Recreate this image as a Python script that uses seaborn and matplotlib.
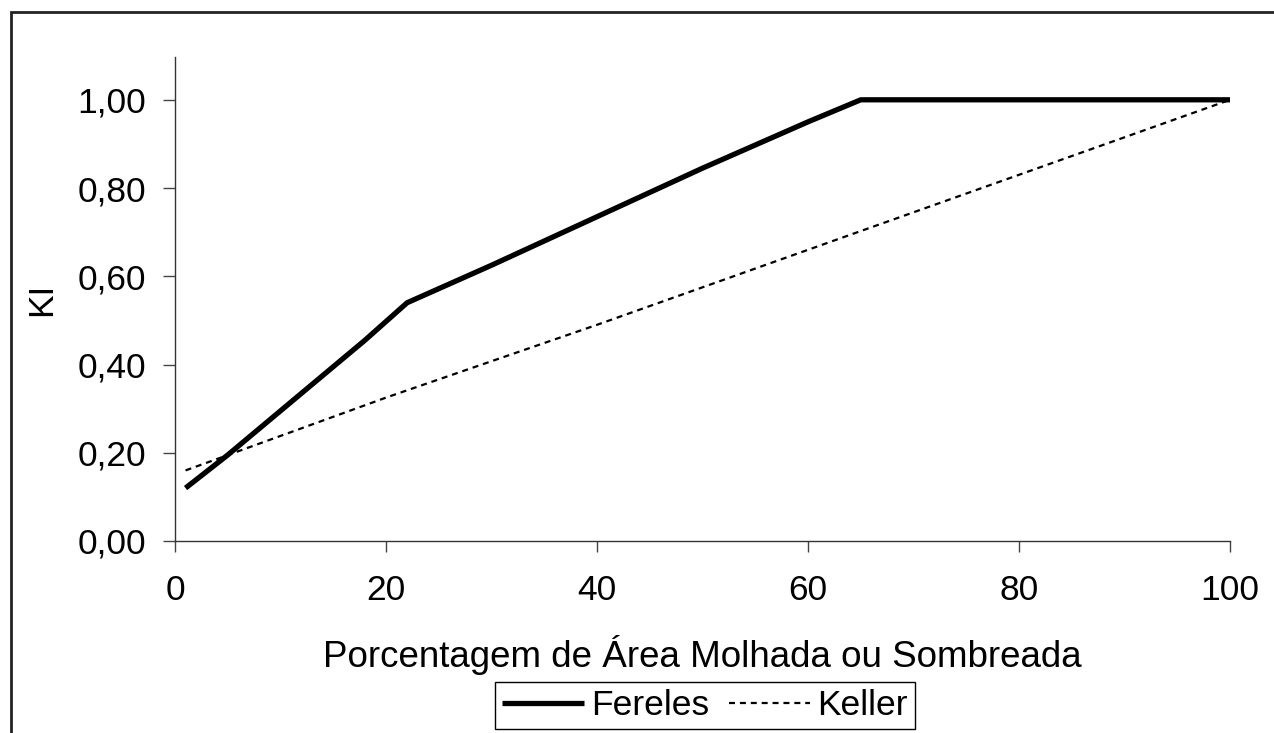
import matplotlib
matplotlib.use("Agg")
import matplotlib.pyplot as plt
import matplotlib.patches as mpatches
import seaborn as sns
import pandas as pd

# Data
fereles_x = [1, 5, 10, 15, 18, 22, 30, 40, 50, 60, 64, 65, 100]
fereles_y = [0.12, 0.195, 0.295, 0.395, 0.455, 0.54, 0.625, 0.735, 0.845, 0.95, 0.99, 1.00, 1.00]
keller_x = [1, 20, 40, 60, 80, 100]
keller_y = [0.16, 0.325, 0.49, 0.66, 0.83, 1.00]
x_ticks = [0, 20, 40, 60, 80, 100]
y_ticks = [0.0, 0.2, 0.4, 0.6, 0.8, 1.0]
y_tick_labels = ["0,00", "0,20", "0,40", "0,60", "0,80", "1,00"]
x_label = "Porcentagem de Área Molhada ou Sombreada"
y_label = "KI"
series_names = ["Fereles", "Keller"]

sns.set_theme(style="white")
plt.rcParams["font.family"] = ["Liberation Sans", "DejaVu Sans"]
plt.rcParams["text.color"] = "black"
plt.rcParams["axes.labelcolor"] = "black"
plt.rcParams["xtick.color"] = "black"
plt.rcParams["ytick.color"] = "black"

df_f = pd.DataFrame({"x": fereles_x, "y": fereles_y})
df_k = pd.DataFrame({"x": keller_x, "y": keller_y})

fig = plt.figure(figsize=(12.74, 7.33), dpi=100)
fig.patch.set_facecolor("white")
ax = fig.add_axes([175/1274, 1-541/733, (1230-175)/1274, (541-57)/733])

sns.lineplot(data=df_f, x="x", y="y", ax=ax, color="black", lw=3.8,
             label=series_names[0], solid_joinstyle="round", solid_capstyle="butt")
sns.lineplot(data=df_k, x="x", y="y", ax=ax, color="black", lw=1.6,
             linestyle=(0, (2.7, 2.2)), label=series_names[1])

ax.set_xlim(0, 100)
ax.set_ylim(0, 1.097)
ax.set_xticks(x_ticks)
ax.set_xticklabels([str(v) for v in x_ticks])
ax.set_yticks(y_ticks)
ax.set_yticklabels(y_tick_labels)

fs = 25.5
ax.tick_params(axis="x", direction="out", length=8, width=1, color="#444444",
               labelsize=fs, labelcolor="black", pad=16, bottom=True)
ax.tick_params(axis="y", direction="out", length=8.6, width=1, color="#444444",
               labelsize=fs, labelcolor="black", pad=12, left=True)
for s in ["top", "right"]:
    ax.spines[s].set_visible(False)
for s in ["left", "bottom"]:
    ax.spines[s].set_color("#333333")
    ax.spines[s].set_linewidth(1)

ax.set_xlabel(x_label, fontsize=26.5, labelpad=20, color="black")
ax.set_ylabel(y_label, fontsize=fs, labelpad=14, color="black")

leg = ax.legend(loc="upper center", bbox_to_anchor=(705/1274, 1-682/733),
                bbox_transform=fig.transFigure, ncol=2, fontsize=fs,
                frameon=True, fancybox=False, handlelength=2.3,
                handletextpad=0.2, columnspacing=0.56, borderpad=0.2,
                borderaxespad=0)
leg.get_frame().set_edgecolor("black")
leg.get_frame().set_linewidth(1)
leg.get_frame().set_alpha(1)
for t in leg.get_texts():
    t.set_color("black")

# outer chart frame
rect = mpatches.Rectangle((11/1274, -0.1), 1.2, 1-12/733+0.1,
                          transform=fig.transFigure, fill=False,
                          edgecolor="#222222", lw=2, zorder=0)
fig.patches.append(rect)

fig.savefig("out.png", dpi=100)
